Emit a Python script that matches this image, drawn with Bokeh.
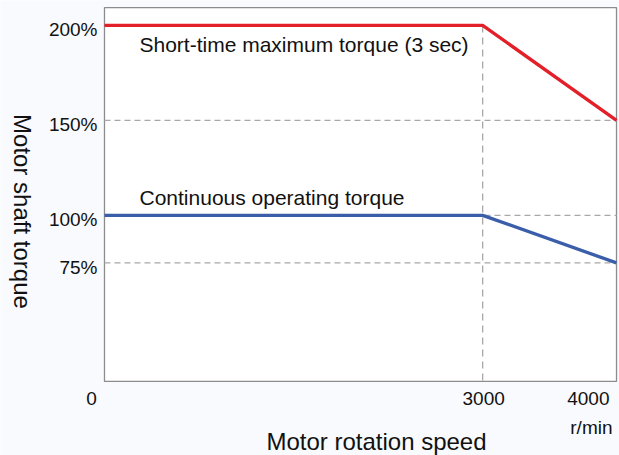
import math
from bokeh.plotting import figure
from bokeh.models import Range1d
from bokeh.core.properties import value
from bokeh.embed import file_html
from bokeh.resources import INLINE

# ---- data ----
speed = [0, 3000, 4000]                      # r/min
short_time_torque = [200, 200, 150]          # % of rated torque
continuous_torque = [100, 100, 75]           # % of rated torque
y_ticks = [200, 150, 100, 75]
y_tick_labels = ["200%", "150%", "100%", "75%"]
x_ticks = [3000, 4000]
x_tick_labels = ["3000", "4000"]
grid_levels = [150, 100, 75]
knee_speed = 3000
origin_label = "0"
speed_unit = "r/min"
x_title = "Motor rotation speed"
y_title = "Motor shaft torque"
short_label = "Short-time maximum torque (3 sec)"
cont_label = "Continuous operating torque"

# ---- plot box (visible frame) in data units, and the full canvas view ----
X0, X1 = 175, 4000
Y0, Y1 = 12.6, 209.4
FONT = value("Liberation Sans")
TXT = "#111111"

p = figure(width=619, height=455, output_backend="svg", toolbar_location=None,
           x_range=Range1d(-601.9, 4022.4), y_range=Range1d(-26.4, 213.1),
           min_border=0)
p.xaxis.visible = False
p.yaxis.visible = False
p.xgrid.visible = False
p.ygrid.visible = False
p.outline_line_color = None
p.background_fill_color = "#f8fafd"
p.border_fill_color = "#f8fafd"

# box
p.quad(left=[X0], right=[X1], bottom=[Y0], top=[Y1], fill_color="white",
       line_color="#8c8c8c", line_width=1.3)

GRID = "#a8a8a8"
p.segment(x0=[X0] * len(grid_levels), y0=grid_levels, x1=[X1] * len(grid_levels),
          y1=grid_levels, line_color=GRID, line_width=1.3, line_dash="6 4")
p.segment(x0=[knee_speed], y0=[short_time_torque[1]], x1=[knee_speed], y1=[Y0],
          line_color=GRID, line_width=1.3, line_dash="7 5")

xs = [max(s, X0) for s in speed]   # clip the curves at the box's left edge
p.line(xs, short_time_torque, line_color="#e3202a", line_width=3.3)
p.line(xs, continuous_torque, line_color="#3a5ea9", line_width=3.3)

# y tick labels
p.text(x=[X0] * len(y_ticks), y=y_ticks, text=y_tick_labels, x_offset=-7, y_offset=4.5,
       text_align="right", text_baseline="middle", text_font=FONT,
       text_font_size="19px", text_color=TXT)

# x tick labels
p.text(x=[X0], y=[Y0], text=[origin_label], x_offset=-13, y_offset=17,
       text_align="center", text_baseline="middle", text_font=FONT,
       text_font_size="19px", text_color=TXT)
p.text(x=[x_ticks[0]], y=[Y0], text=[x_tick_labels[0]], x_offset=1, y_offset=17,
       text_align="center", text_baseline="middle", text_font=FONT,
       text_font_size="19px", text_color=TXT)
p.text(x=[x_ticks[1]], y=[Y0], text=[x_tick_labels[1]], x_offset=-7, y_offset=17,
       text_align="right", text_baseline="middle", text_font=FONT,
       text_font_size="19px", text_color=TXT)
p.text(x=[x_ticks[1]], y=[Y0], text=[speed_unit], x_offset=-4, y_offset=46,
       text_align="right", text_baseline="middle", text_font=FONT,
       text_font_size="19px", text_color=TXT)

# axis titles
p.text(x=[(X0 + X1) / 2], y=[Y0], text=[x_title], x_offset=16, y_offset=60,
       text_align="center", text_baseline="middle", text_font=FONT,
       text_font_size="24px", text_color=TXT)
p.text(x=[X0], y=[(Y0 + Y1) / 2], text=[y_title], x_offset=-82, y_offset=17,
       angle=-math.pi / 2, text_align="center", text_baseline="middle",
       text_font=FONT, text_font_size="24px", text_color=TXT)

# curve annotations
p.text(x=[X0], y=[short_time_torque[0]], text=[short_label], x_offset=35, y_offset=19,
       text_align="left", text_baseline="middle", text_font=FONT,
       text_font_size="21px", text_color=TXT)
p.text(x=[X0], y=[continuous_torque[0]], text=[cont_label], x_offset=35, y_offset=-18,
       text_align="left", text_baseline="middle", text_font=FONT,
       text_font_size="21px", text_color=TXT)

open("out.html", "w").write(file_html(p, INLINE))
